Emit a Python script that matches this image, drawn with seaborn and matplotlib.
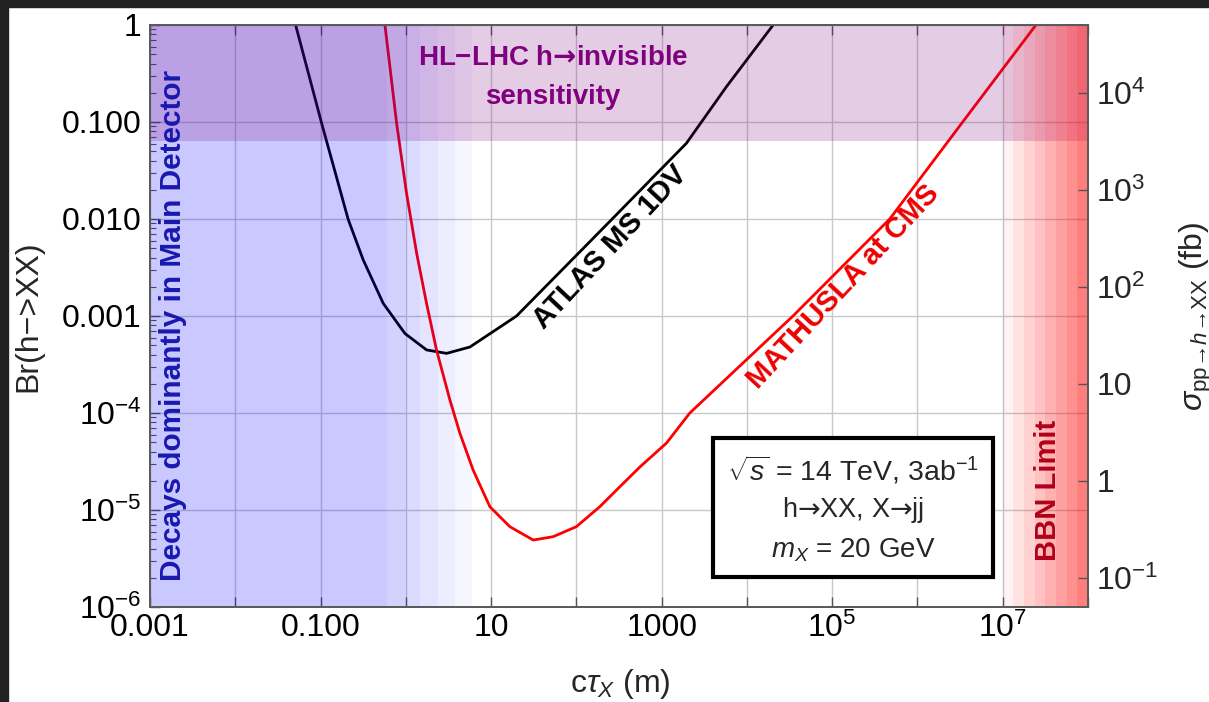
import numpy as np
import pandas as pd
import matplotlib
matplotlib.use("Agg")
import matplotlib.pyplot as plt
import seaborn as sns
from matplotlib.patches import Rectangle
from matplotlib.ticker import FixedLocator, FixedFormatter, LogLocator, NullLocator, NullFormatter

# ---------------- data ----------------
atlas_ctau = [0.051, 0.103, 0.211, 0.316, 0.543, 0.977, 1.75, 3.01, 5.64, 10.6, 19.9, 263, 1950, 5750, 20300]
atlas_br = [1.0, 0.097, 0.0099, 0.0038, 0.00135, 6.6e-4, 4.47e-4, 4.12e-4, 4.79e-4, 6.92e-4, 1.0e-3, 0.01, 0.0603, 0.231, 1.0]

mathusla_ctau = [0.569, 0.78, 1.02, 1.34, 1.75, 2.29, 3.29, 4.31, 6.17, 9.68, 16.6, 31.2, 53.5, 100,
                 188, 324, 562, 1140, 2140, 34700, 473000, 3.39e6, 2.45e7]
mathusla_br = [1.0, 0.097, 0.0184, 0.00443, 0.00135, 4.47e-4, 1.36e-4, 6.17e-5, 2.57e-5, 1.08e-5, 6.73e-6,
               4.9e-6, 5.31e-6, 6.73e-6, 1.08e-5, 1.74e-5, 2.8e-5, 4.9e-5, 1e-4, 1e-3, 1e-2, 0.1, 1.0]

# regions
hinv_br_limit = 0.063            # HL-LHC h->invisible sensitivity
main_det_solid_end = 0.6         # Decays dominantly in main detector (solid)
main_det_fade_edges = [0.6, 0.977, 1.46, 2.38, 3.77, 5.96]
bbn_edges = [1e7, 1.33e7, 1.78e7, 2.37e7, 3.16e7, 4.22e7, 5.62e7, 7.5e7, 1e8]
sigma_h = 5.0e4                  # fb, conversion for right axis

x_ticks = [1e-3, 1e-2, 1e-1, 1e0, 1e1, 1e2, 1e3, 1e4, 1e5, 1e6, 1e7, 1e8]
x_labels = ["0.001", "", "0.100", "", "10", "", "1000", "", "$10^5$", "", "$10^7$", ""]
y_ticks = [1e-6, 1e-5, 1e-4, 1e-3, 1e-2, 1e-1, 1]
y_labels = ["$10^{-6}$", "$10^{-5}$", "$10^{-4}$", "0.001", "0.010", "0.100", "1"]
r_ticks = [0.1, 1, 10, 100, 1000, 10000]
r_labels = ["$10^{-1}$", "1", "10", "$10^2$", "$10^3$", "$10^4$"]

# ---------------- style ----------------
sns.set_theme(style="white")
plt.rcParams['font.family'] = ['Liberation Sans', 'DejaVu Sans']
plt.rcParams['mathtext.fontset'] = 'custom'
plt.rcParams['mathtext.rm'] = 'Liberation Sans'
plt.rcParams['mathtext.it'] = 'Liberation Sans:italic'
plt.rcParams['mathtext.bf'] = 'Liberation Sans:bold'
plt.rcParams['mathtext.sf'] = 'DejaVu Sans'
plt.rcParams['mathtext.tt'] = 'DejaVu Sans:bold'

W, H = 1209, 702
fig = plt.figure(figsize=(W / 100, H / 100), dpi=100)
fig.patch.set_facecolor("white")
L, R, T, B = 150, 1088, 25, 607
ax = fig.add_axes([L / W, 1 - B / H, (R - L) / W, (B - T) / H])

df_a = pd.DataFrame({"ctau": atlas_ctau, "br": atlas_br})
df_m = pd.DataFrame({"ctau": mathusla_ctau, "br": mathusla_br})
sns.lineplot(data=df_a, x="ctau", y="br", ax=ax, color="black", lw=2.0, sort=False, zorder=2)
sns.lineplot(data=df_m, x="ctau", y="br", ax=ax, color="#FF0000", lw=2.0, sort=False, zorder=2)
ax.set_xlabel("")
ax.set_ylabel("")

ax.set_xscale("log")
ax.set_yscale("log")
ax.set_xlim(1e-3, 1e8)
ax.set_ylim(1e-6, 1)

# overlays (on top of lines, translucent)
ax.axvspan(1e-3, main_det_solid_end, color=(0, 0, 1), alpha=0.21, lw=0, zorder=3)
nf = len(main_det_fade_edges) - 1
for i in range(nf):
    a = 0.21 * (nf - i) / (nf + 1)
    ax.axvspan(main_det_fade_edges[i], main_det_fade_edges[i + 1], color=(0, 0, 1), alpha=a, lw=0, zorder=3)
ax.axhspan(hinv_br_limit, 1, color=(0.5, 0, 0.5), alpha=0.2, lw=0, zorder=3)
nb = len(bbn_edges) - 1
for i in range(nb):
    a = 0.05 + 0.45 * i / (nb - 1)
    ax.axvspan(bbn_edges[i], bbn_edges[i + 1], color=(1, 0, 0), alpha=a, lw=0, zorder=3)

# grid
ax.set_axisbelow(True)
ax.grid(True, which="major", color="#C8C8C8", lw=1.0)

# ticks
ax.xaxis.set_major_locator(FixedLocator(x_ticks))
ax.xaxis.set_major_formatter(FixedFormatter(x_labels))
ax.xaxis.set_minor_locator(NullLocator())
ax.yaxis.set_major_locator(FixedLocator(y_ticks))
ax.yaxis.set_major_formatter(FixedFormatter(y_labels))
ax.yaxis.set_minor_locator(LogLocator(base=10, subs=np.arange(2, 10), numticks=20))
ax.yaxis.set_minor_formatter(NullFormatter())
ax.tick_params(axis="both", which="major", direction="in", length=7, width=1.0, color="#555555",
               labelsize=23, labelcolor="black")
ax.tick_params(axis="x", which="major", top=True, bottom=True, pad=4)
ax.tick_params(axis="y", which="major", left=True, right=False, pad=6)
ax.tick_params(axis="y", which="minor", direction="in", length=4, width=0.8, color="#555555", left=True)
for s in ax.spines.values():
    s.set_color("#5A5A5A")
    s.set_linewidth(1.3)
    s.set_zorder(4)

ax2 = ax.twinx()
ax2.set_yscale("log")
ax2.set_ylim(1e-6 * sigma_h, 1 * sigma_h)
ax2.yaxis.set_major_locator(FixedLocator(r_ticks))
ax2.yaxis.set_major_formatter(FixedFormatter(r_labels))
ax2.yaxis.set_minor_locator(NullLocator())
ax2.tick_params(axis="y", which="major", direction="in", length=7, width=1.0, color="#555555",
                labelsize=23, pad=6)
for s in ax2.spines.values():
    s.set_color("#5A5A5A")
    s.set_linewidth(1.3)
ax2.grid(False)

# axis labels (placed in figure pixels)
fig.text(28 / W, 1 - 316 / H, "Br(h−>XX)", rotation=90, ha="center", va="center", fontsize=23)
fig.text(620 / W, 1 - 684 / H, r"c$\tau_X$ (m)", ha="center", va="center", fontsize=23)
fig.text(1196 / W, 1 - 316 / H, r"$\sigma_{\mathrm{pp→}h\mathrm{→XX}}$ (fb)", rotation=90,
         ha="center", va="center", fontsize=23)

# annotations
ax.text(0.4296, 0.943, r"HL−LHC h$\mathtt{→}$invisible", transform=ax.transAxes, ha="center", va="center",
        fontsize=20, fontweight="bold", color="#800080", zorder=6)
ax.text(0.4296, 0.876, "sensitivity", transform=ax.transAxes, ha="center", va="center",
        fontsize=20, fontweight="bold", color="#800080", zorder=6)
ax.text(0.025, 0.483, "Decays dominantly in Main Detector", transform=ax.transAxes, ha="center",
        va="center", rotation=90, fontsize=21.4, fontweight="bold", color="#1818B0", zorder=6)
ax.text(0.957, 0.201, "BBN Limit", transform=ax.transAxes, ha="center", va="center", rotation=90,
        fontsize=21, fontweight="bold", color="#B0001A", zorder=6)
ax.text(0.4904, 0.619, "ATLAS MS 1DV", transform=ax.transAxes, ha="center", va="center",
        rotation=47, rotation_mode="anchor", fontsize=21, fontweight="bold", color="black", zorder=6)
ax.text(0.739, 0.550, "MATHUSLA at CMS", transform=ax.transAxes, ha="center", va="center",
        rotation=47, rotation_mode="anchor", fontsize=21, fontweight="bold", color="#EE0000", zorder=6)

# info box
ax.add_patch(Rectangle((0.600, 0.0515), 0.299, 0.2385, transform=ax.transAxes, facecolor="white",
                       edgecolor="black", lw=3, zorder=6))
ax.text(0.7495, 0.235, r"$\sqrt{s}$ = 14 TeV, 3ab$^{-1}$", transform=ax.transAxes, ha="center",
        va="center", fontsize=20.5, zorder=7)
ax.text(0.7495, 0.167, r"h$\mathsf{→}$XX, X$\mathsf{→}$jj", transform=ax.transAxes, ha="center", va="center",
        fontsize=19.5, zorder=7)
ax.text(0.7495, 0.098, r"$m_X$ = 20 GeV", transform=ax.transAxes, ha="center", va="center",
        fontsize=20, zorder=7)

# dark screenshot border (left and top)
fig.patches.append(Rectangle((0, 0), 8 / W, 1, transform=fig.transFigure, color="#222222", zorder=10))
fig.patches.append(Rectangle((0, 1 - 7 / H), 1, 7 / H, transform=fig.transFigure, color="#222222", zorder=10))

fig.savefig("out.png", dpi=100)
